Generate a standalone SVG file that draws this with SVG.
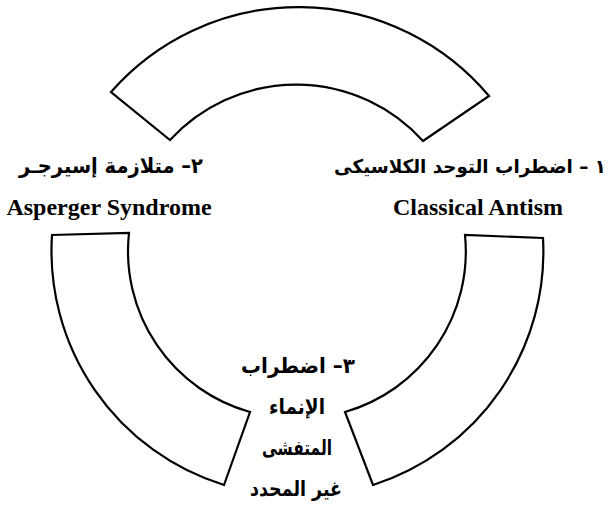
<svg xmlns="http://www.w3.org/2000/svg" width="616" height="508" viewBox="0 0 616 508">
<style>
.seg{fill:#fff;stroke:#000;stroke-width:2.2;stroke-linejoin:miter}
.ar{font-family:"DejaVu Sans",sans-serif;font-weight:bold;font-size:21px;fill:#000;text-anchor:middle}
.en{font-family:"Liberation Serif",serif;font-weight:bold;font-size:24px;fill:#000;text-anchor:middle}
</style>
<rect width="616" height="508" fill="#fff"/>
<g id="seg-top">
<path class="seg" d="M111,92 A249,249 0 0 1 489,96 L423,141 A171,171 0 0 0 170,140 Z"/>
</g>
<g id="seg-right">
<path class="seg" d="M465,235 A167,167 0 0 1 345,412 L373,485 A245,245 0 0 0 543,238 Z"/>
</g>
<g id="seg-left">
<path class="seg" d="M52,235 A245,245 0 0 0 224,485 L250,412 A167,167 0 0 1 129,233 Z"/>
</g>
<g id="label-1">
<text class="ar" x="470" y="173" direction="rtl" style="font-size:19px" textLength="272" lengthAdjust="spacingAndGlyphs">١ – اضطراب التوحد الكلاسيكى</text>
<text class="en" x="478" y="215">Classical Antism</text>
</g>
<g id="label-2">
<text class="ar" x="111" y="173" direction="rtl" textLength="184" lengthAdjust="spacingAndGlyphs">٢– متلازمة إسيرجـر</text>
<text class="en" x="109" y="215">Asperger Syndrome</text>
</g>
<g id="label-3">
<text class="ar" x="298" y="373" direction="rtl" textLength="114" lengthAdjust="spacingAndGlyphs">٣– اضطراب</text>
<text class="ar" x="297" y="414" direction="rtl" textLength="56" lengthAdjust="spacingAndGlyphs">الإنماء</text>
<text class="ar" x="297" y="455" direction="rtl" textLength="70" lengthAdjust="spacingAndGlyphs">المتفشى</text>
<text class="ar" x="296" y="496" direction="rtl" textLength="92" lengthAdjust="spacingAndGlyphs">غير المحدد</text>
</g>
</svg>
